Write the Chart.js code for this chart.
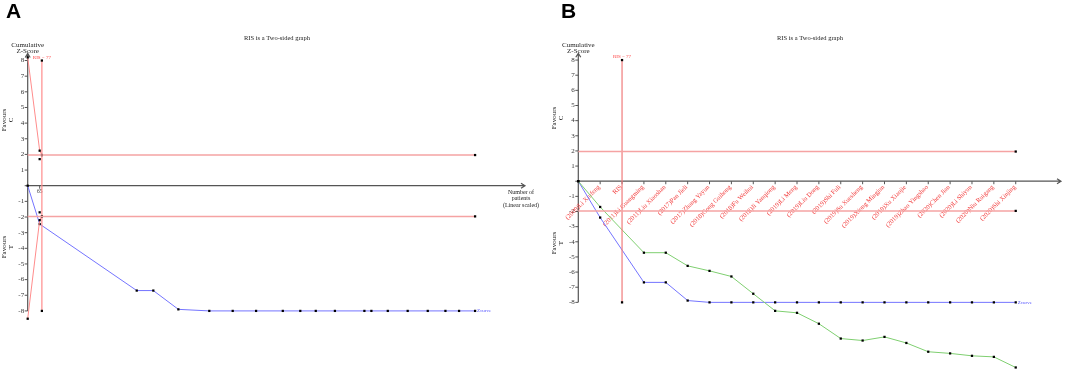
<!DOCTYPE html>
<html>
<head>
<meta charset="utf-8">
<script src="https://cdn.jsdelivr.net/npm/chart.js@4"></script>
<style>
body { margin: 0; background: #fff; width: 1065px; height: 373px; overflow: hidden; position: relative; }
canvas { position: absolute; top: 0; }
#cA { left: 0; }
#cB { left: 532px; }
.panel { position: absolute; top: 0; font: bold 21px/21px "Liberation Sans", Arial, sans-serif; }
</style>
</head>
<body>
<canvas id="cA" width="560" height="373"></canvas>
<canvas id="cB" width="533" height="373"></canvas>
<div class="panel" style="left:6px">A</div>
<div class="panel" style="left:561px">B</div>
<script>
// shared
var yTicks = [-8, -7, -6, -5, -4, -3, -2, -1, 0, 1, 2, 3, 4, 5, 6, 7, 8];
var sig = 1.96;
var risN = 77;

// panel A: cumulative Z by number of patients
var patientsA = [0, 65, 592, 682, 818, 986, 1113, 1240, 1385, 1480, 1564, 1668, 1828, 1866, 1955, 2063, 2172, 2268, 2342, 2429];
var zCurveA = [0, -2.45, -6.7, -6.7, -7.9, -8, -8, -8, -8, -8, -8, -8, -8, -8, -8, -8, -8, -8, -8, -8];
var boundX = [0, 65, 77];
var boundUpA = [8.2, 2.24, 1.96];
var boundLoA = [-8.5, -2.2, -1.96];
var innerA = [1.7, -1.7];

// panel B: cumulative Z by study
var studiesB = ['(2009)Li Xiufeng', 'RIS', '(2011)Li Guangming', '(2011)Liu Xiaoshan', '(2017)Pan Jieli',
    '(2017)Zhang Yayun', '(2018)Gong Guihong', '(2018)Fu Weihui', '(2018)Ji Yanqiong', '(2019)Li Meng',
    '(2019)Liu Dong', '(2019)Shi Fuli', '(2019)Su Xuesheng', '(2019)Xiong Mingjun', '(2019)Xu Xiaojie',
    '(2019)Zhao Yingshao', '(2020)Chen Jian', '(2020)Li Shiyun', '(2020)Niu Ruigang', '(2020)Shi Xinjing'];
var stepB = [0, 1, 3, 4, 5, 6, 7, 8, 9, 10, 11, 12, 13, 14, 15, 16, 17, 18, 19, 20];
var zCurveB = [0, -2.4, -6.68, -6.68, -7.88, -8, -8, -8, -8, -8, -8, -8, -8, -8, -8, -8, -8, -8, -8, -8];
var greenB = [0, -1.7, -4.72, -4.72, -5.59, -5.92, -6.29, -7.43, -8.56, -8.69, -9.41, -10.39, -10.52, -10.28, -10.68, -11.26, -11.37, -11.53, -11.6, -12.3];
var risB = 2;

function pts(xs, ys) {
    return xs.map(function (x, i) { return { x: x, y: ys[i] }; });
}

function line(data, color, width, radius) {
    return {
        data: data,
        showLine: true,
        borderColor: color,
        borderWidth: width,
        tension: 0,
        pointStyle: 'rect',
        pointRadius: radius,
        pointBackgroundColor: '#000',
        pointBorderWidth: 0,
        clip: false
    };
}

var serif = '"Liberation Serif", "Times New Roman", serif';

function frame(o) {
    return {
        id: 'frame',
        beforeDatasetsDraw: function (chart) {
            var ctx = chart.ctx, x = chart.scales.x, y = chart.scales.y;
            var x0 = x.getPixelForValue(0), y0 = y.getPixelForValue(0);
            var yTop = y.getPixelForValue(8.45), yBot = y.getPixelForValue(-8);
            var xEnd = x.right;
            ctx.save();
            ctx.strokeStyle = '#555';
            ctx.lineWidth = 1.2;
            ctx.beginPath();
            ctx.moveTo(x0, yBot); ctx.lineTo(x0, yTop);
            ctx.moveTo(x0, y0); ctx.lineTo(xEnd, y0);
            ctx.moveTo(x0 - 2.5, yTop + 4); ctx.lineTo(x0, yTop); ctx.lineTo(x0 + 2.5, yTop + 4);
            ctx.moveTo(xEnd - 4, y0 - 2.5); ctx.lineTo(xEnd, y0); ctx.lineTo(xEnd - 4, y0 + 2.5);
            ctx.stroke();

            ctx.lineWidth = 1;
            ctx.font = '7px ' + serif;
            ctx.fillStyle = '#333';
            ctx.textAlign = 'right';
            ctx.textBaseline = 'middle';
            yTicks.forEach(function (v) {
                var py = y.getPixelForValue(v);
                ctx.beginPath(); ctx.moveTo(x0 - 3, py); ctx.lineTo(x0, py); ctx.stroke();
                if (v !== 0) ctx.fillText(String(v), x0 - 3.5, py);
            });

            // x ticks
            if (o.xTicks) {
                o.xTicks.forEach(function (t) {
                    var px = x.getPixelForValue(t.v);
                    ctx.beginPath(); ctx.moveTo(px, y0); ctx.lineTo(px, y0 + 3); ctx.stroke();
                    ctx.save();
                    ctx.fillStyle = o.tickColor;
                    ctx.font = o.tickFont;
                    if (o.rotate) {
                        ctx.translate(px - 1, y0 + 5);
                        ctx.rotate(-Math.PI / 4);
                        ctx.textAlign = 'right';
                        ctx.textBaseline = 'middle';
                        ctx.fillText(t.label, 0, 0);
                    } else {
                        ctx.textAlign = 'center';
                        ctx.textBaseline = 'middle';
                        ctx.fillText(t.label, px, y0 + 6);
                    }
                    ctx.restore();
                });
            }

            // texts
            ctx.fillStyle = '#222';
            ctx.textAlign = 'center';
            ctx.font = '6.5px ' + serif;
            ctx.fillText('RIS is a Two-sided graph', o.titleX, 38);
            ctx.font = '7px ' + serif;
            ctx.fillText('Cumulative', x0, 45.5);
            ctx.fillText('Z-Score', x0, 51.5);
            [['C', o.favC], ['T', o.favT]].forEach(function (f) {
                ctx.save();
                ctx.translate(o.favX, f[1]);
                ctx.rotate(-Math.PI / 2);
                ctx.fillText('Favours', 0, 0);
                ctx.fillText(f[0], 0, 7);
                ctx.restore();
            });
            if (o.xTitle) {
                ctx.font = '6px ' + serif;
                o.xTitle.forEach(function (s, i) { ctx.fillText(s, o.xTitleX, 192 + i * 6.5); });
            }
            ctx.restore();
        },
        afterDatasetsDraw: function (chart) {
            var ctx = chart.ctx, x = chart.scales.x, y = chart.scales.y;
            ctx.save();
            ctx.font = '5px ' + serif;
            ctx.textBaseline = 'middle';
            ctx.fillStyle = '#ff3b3b';
            ctx.textAlign = 'center';
            ctx.fillText('RIS = ' + risN, x.getPixelForValue(o.risX), y.getPixelForValue(8) - 3);
            ctx.fillStyle = '#5555ff';
            ctx.textAlign = 'left';
            ctx.fillText('Zcurve', x.getPixelForValue(o.zEnd) + 2, y.getPixelForValue(-8));
            ctx.restore();
        }
    };
}

function makeChart(id, datasets, xMax, yMin, yMax, pad, o) {
    return new Chart(document.getElementById(id), {
        type: 'scatter',
        data: { datasets: datasets },
        options: {
            responsive: false,
            animation: false,
            events: [],
            layout: { padding: pad },
            plugins: { legend: { display: false }, tooltip: { enabled: false } },
            scales: {
                x: { type: 'linear', display: false, min: 0, max: xMax },
                y: { type: 'linear', display: false, min: yMin, max: yMax }
            }
        },
        plugins: [frame(o)]
    });
}

var redLine = '#ff8c8c';
var sigLine = '#f5a3a3';

var xEndA = patientsA[patientsA.length - 1];
makeChart('cA', [
    line(pts([0, xEndA], [sig, sig]), sigLine, 1.5, [0, 1.6]),
    line(pts([0, xEndA], [-sig, -sig]), sigLine, 1.5, [0, 1.6]),
    line(pts(boundX, boundUpA), redLine, 1, 1.6),
    line(pts(boundX, boundLoA), redLine, 1, 1.6),
    line(pts([risN, risN], [-8, 8]), redLine, 1.2, 1.6),
    line(pts([boundX[1], boundX[1]], innerA), 'rgba(0,0,0,0)', 0, 1.6),
    line(pts(patientsA, zCurveA), '#7474ff', 1, 1.6)
], 2700, -8.6, 8.5, { left: 27.7, right: 35, top: 52.7, bottom: 52.7 }, {
    titleX: 277, favX: 4, favC: 120, favT: 247,
    xTicks: [{ v: 65, label: '65' }], tickColor: '#333', tickFont: '5.5px ' + serif,
    xTitle: ['Number of', 'patients', '(Linear scaled)'], xTitleX: 521,
    risX: risN, zEnd: xEndA
});

var xEndB = stepB[stepB.length - 1];
makeChart('cB', [
    line(pts([0, xEndB], [sig, sig]), sigLine, 1.5, [0, 1.6]),
    line(pts([0, xEndB], [-sig, -sig]), sigLine, 1.5, [0, 1.6]),
    line(pts([risB, risB], [-8, 8]), '#f07a7a', 1.2, 1.6),
    line(pts(stepB, greenB), '#7fcf70', 1, 1.6),
    line(pts(stepB, zCurveB), '#7474ff', 1, 1.6)
], 22.07, -12.4, 8.5, { left: 46.3, right: 3.3, top: 52.5, bottom: 1.4 }, {
    titleX: 278, favX: 22, favC: 118, favT: 243,
    xTicks: studiesB.map(function (s, i) { return { v: i + 1, label: s }; }),
    tickColor: '#f23a3a', tickFont: '6.5px ' + serif, rotate: true,
    risX: risB, zEnd: xEndB
});
</script>
</body>
</html>
